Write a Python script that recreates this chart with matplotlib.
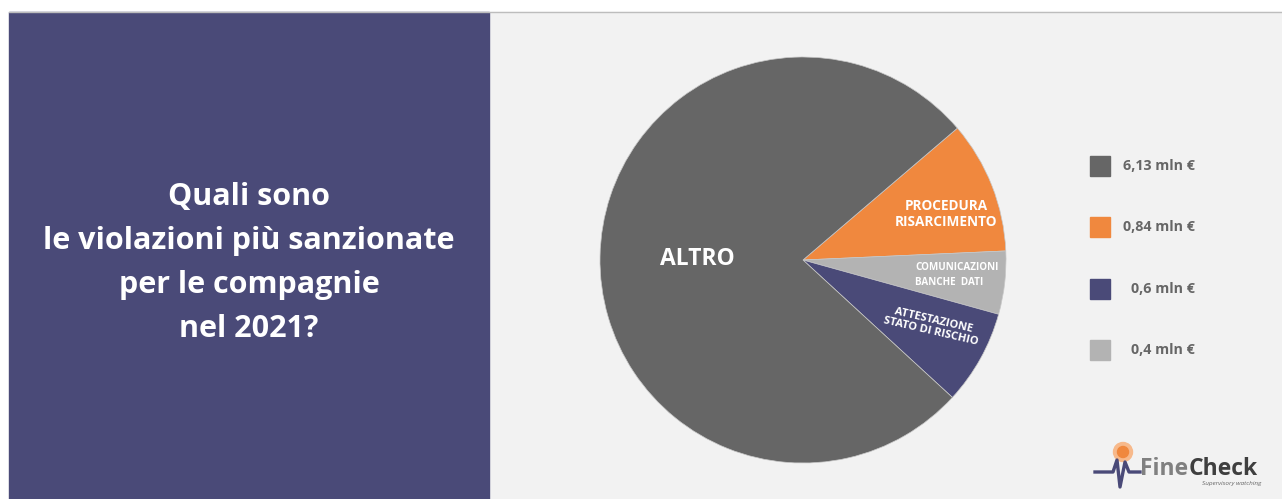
import matplotlib.pyplot as plt
from matplotlib.patches import Rectangle, Circle

# data (clockwise from the orange wedge)
slice_names = ["PROCEDURA\nRISARCIMENTO", "COMUNICAZIONI\nBANCHE  DATI",
               "ATTESTAZIONE\nSTATO DI RISCHIO", "ALTRO"]
slice_values = [0.84, 0.4, 0.6, 6.13]
slice_colors = ["#F0883E", "#B3B3B3", "#4A4A78", "#666666"]

legend_labels = ["6,13 mln €", "0,84 mln €", "0,6 mln €", "0,4 mln €"]
legend_colors = ["#666666", "#F0883E", "#4A4A78", "#B3B3B3"]

title = "Quali sono\nle violazioni più sanzionate\nper le compagnie\nnel 2021?"

W, H = 1282, 499
FONT = "Open Sans"
fig = plt.figure(figsize=(W / 100, H / 100), dpi=100)
fig.patch.set_facecolor("white")

# background axes in pixel coordinates
bg = fig.add_axes([0, 0, 1, 1])
bg.set_xlim(0, W)
bg.set_ylim(H, 0)
bg.axis("off")
bg.add_patch(Rectangle((489, 12), W - 489, H - 12, color="#F2F2F2", zorder=0))
bg.add_patch(Rectangle((9, 12), 480, H - 12, color="#4A4A78", zorder=1))
bg.plot([9, W], [12, 12], color="#BDBDBD", lw=1, zorder=2)

bg.text(249, 263, title, color="white", fontsize=22, fontweight="bold",
        family=FONT, ha="center", va="center", linespacing=1.62)

# pie
cx, cy, r = 803, 260, 203
pax = fig.add_axes([(cx - r) / W, (H - cy - r) / H, 2 * r / W, 2 * r / H])
pax.pie(slice_values, colors=slice_colors, startangle=40.5, counterclock=False,
        radius=1, wedgeprops=dict(linewidth=0.5, edgecolor="#C8C8C8"))
pax.set_xlim(-1, 1)
pax.set_ylim(-1, 1)
pax.set_aspect("equal")

# overlay axes for labels, legend and logo
top = fig.add_axes([0, 0, 1, 1])
top.set_xlim(0, W)
top.set_ylim(H, 0)
top.axis("off")
top.patch.set_alpha(0)

# slice labels
top.text(697, 259, slice_names[3], color="white", fontsize=16.5, fontweight="bold",
         family=FONT, ha="center", va="center")
top.text(946, 214, slice_names[0], color="white", fontsize=9.8, fontweight="bold",
         family=FONT, ha="center", va="center", linespacing=1.25)
top.text(915, 275, slice_names[1], color="white", fontsize=7.1, fontweight="bold",
         family=FONT, ha="left", va="center", linespacing=1.45)
top.text(932, 326, slice_names[2], color="white", fontsize=8, fontweight="bold",
         family=FONT, ha="center", va="center", rotation=-13, linespacing=1.1)

# legend
legend_y = [166, 227, 289, 350]
for lab, col, y in zip(legend_labels, legend_colors, legend_y):
    top.add_patch(Rectangle((1090, y - 10), 20, 20, color=col, zorder=3))
    top.text(1195, y, lab, color="#666666", fontsize=10.3, fontweight="bold",
             family=FONT, ha="right", va="center")

# logo
top.add_patch(Circle((1123, 452), 9.5, color="#F7B98B", zorder=3))
top.add_patch(Circle((1123, 452), 5.5, color="#F0883E", zorder=3))
top.plot([1095, 1113, 1117, 1120, 1125, 1129, 1140],
         [472, 472, 460, 487, 462, 472, 472], color="#4A4A78", lw=2.4,
         solid_joinstyle="round", zorder=4)
fine = top.text(1140, 475, "Fine", color="#808080", fontsize=16.5, fontweight="bold",
                family=FONT, ha="left", va="baseline")
top.annotate("Check", xy=(1, 0), xycoords=fine, color="#3F3F3F", fontsize=16.5,
             fontweight="bold", family=FONT, ha="left", va="bottom")
top.text(1261, 483, "Supervisory watching", color="#666666", fontsize=4.6,
         style="italic", family=FONT, ha="right", va="center")

fig.savefig("out.png", dpi=100, facecolor=fig.get_facecolor())
